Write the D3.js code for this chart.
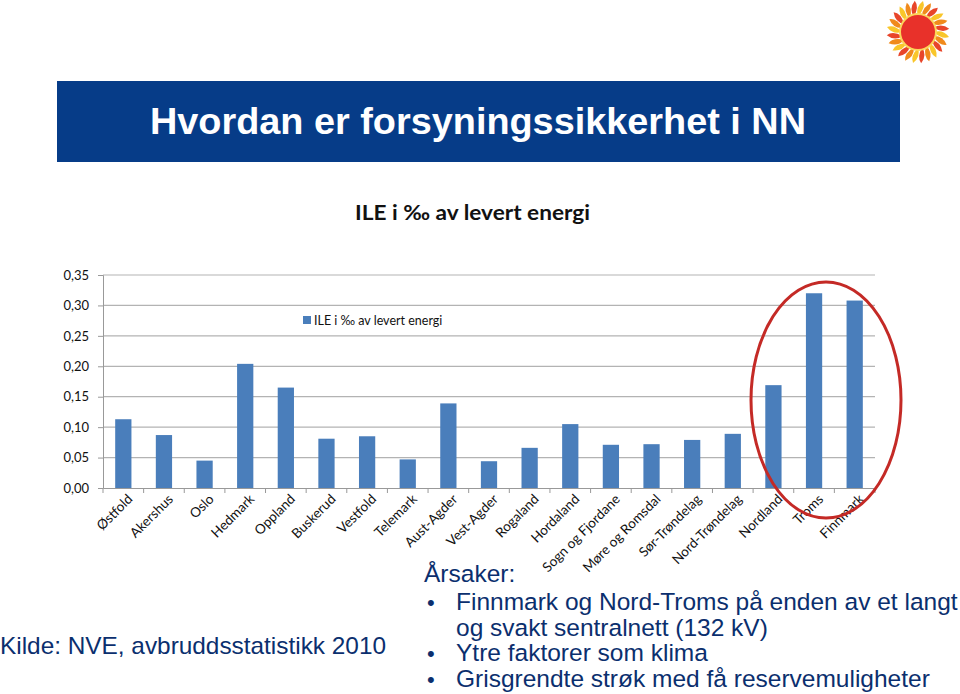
<!DOCTYPE html>
<html><head><meta charset="utf-8">
<script src="https://cdn.jsdelivr.net/npm/d3@7"></script>
<style>body{margin:0;background:#fff}svg{display:block}</style>
</head><body>
<svg id="c" width="960" height="694"></svg>
<script>
const categories = ["Østfold","Akershus","Oslo","Hedmark","Oppland","Buskerud","Vestfold","Telemark","Aust-Agder","Vest-Agder","Rogaland","Hordaland","Sogn og Fjordane","Møre og Romsdal","Sør-Trøndelag","Nord-Trøndelag","Nordland","Troms","Finnmark"];
const values = [0.113,0.087,0.045,0.204,0.165,0.081,0.085,0.047,0.139,0.044,0.066,0.105,0.071,0.072,0.079,0.089,0.169,0.320,0.308];
const yTicks = [0,0.05,0.10,0.15,0.20,0.25,0.30,0.35];
const seriesName = "ILE i ‰ av levert energi";
const pageTitle = "Hvordan er forsyningssikkerhet i NN";
const sourceText = "Kilde: NVE, avbruddsstatistikk 2010";
const causesHead = "Årsaker:";
const causes = [["Finnmark og Nord-Troms på enden av et langt","og svakt sentralnett (132 kV)"],["Ytre faktorer som klima"],["Grisgrendte strøk med få reservemuligheter"]];

const svg = d3.select("#c");
const navy = "#0b2f6e";
const cf = "Lato, Open Sans, sans-serif";

// logo
const logo = svg.append("g").attr("transform","translate(918,32)");
for (let i=0;i<24;i++){
  const a = i*360/24;
  logo.append("path").attr("d","M0,-16 Q8,-24 5,-31 Q-3,-25 0,-16Z")
    .attr("fill", i%3==0? "#f9c62a": (i%3==1 ? "#f08a1c" : "#e8452a")).attr("transform",`rotate(${a})`);
}
logo.append("circle").attr("r",19).attr("fill","#fbd45a");
logo.append("circle").attr("r",17).attr("fill","#e8312a");

// banner
svg.append("rect").attr("x",57).attr("y",81).attr("width",843).attr("height",81).attr("fill","#063c88");
svg.append("text").attr("x",150).attr("y",134).attr("fill","#fff")
  .attr("font-family","Liberation Sans, Arial, sans-serif").attr("font-weight","bold").attr("font-size",36)
  .attr("textLength",656).attr("lengthAdjust","spacingAndGlyphs")
  .text(pageTitle);

// chart title
svg.append("text").attr("x",355).attr("y",220)
  .attr("font-family",cf).attr("font-weight","bold").attr("font-size",20)
  .attr("textLength",235).attr("lengthAdjust","spacingAndGlyphs")
  .attr("fill","#111").text(seriesName);

const x = d3.scaleBand().domain(categories).range([103,875]).paddingInner(0.6).paddingOuter(0.3);
const y = d3.scaleLinear().domain([0,0.35]).range([488,275]);

const g = svg.append("g");
// gridlines
g.selectAll("line.grid").data(yTicks.filter(d=>d>0)).join("line")
  .attr("x1",103).attr("x2",875).attr("y1",d=>y(d)).attr("y2",d=>y(d))
  .attr("stroke","#b3b3b3").attr("stroke-width",1.2);

// y axis
const yAx = g.append("g").attr("transform","translate(103,0)")
  .call(d3.axisLeft(y).tickValues(yTicks).tickSize(5).tickFormat(d=>d3.format(".2f")(d).replace(".",",")));
yAx.select(".domain").attr("stroke","#999");
yAx.selectAll(".tick line").attr("stroke","#999");
yAx.selectAll("text").attr("font-family",cf).attr("font-size",13).attr("fill","#111").attr("x",-14);

// bars
g.selectAll("rect.bar").data(values).join("rect")
  .attr("x",(d,i)=>x(categories[i])).attr("width",x.bandwidth())
  .attr("y",d=>y(d)).attr("height",d=>y(0)-y(d)).attr("fill","#4a7ebb");

// x axis
const xAx = g.append("g").attr("transform","translate(0,488)")
  .call(d3.axisBottom(x).tickSize(0).tickSizeOuter(0));
xAx.select(".domain").attr("stroke","#999");
xAx.selectAll("text").attr("font-family",cf).attr("font-size",13.5).attr("fill","#111")
  .attr("text-anchor","end").attr("dy",0).attr("y",0).attr("transform","translate(10,12) rotate(-45)");
// category boundary ticks
g.selectAll("line.ctick").data(d3.range(categories.length+1)).join("line")
  .attr("x1",i=>103+i*(772/categories.length)).attr("x2",i=>103+i*(772/categories.length))
  .attr("y1",488).attr("y2",493).attr("stroke","#999");

// legend
svg.append("rect").attr("x",303).attr("y",316).attr("width",8).attr("height",8).attr("fill","#4a7ebb");
svg.append("text").attr("x",314).attr("y",325).attr("font-family",cf).attr("font-size",12.5).attr("fill","#111").text(seriesName);

// red ellipse
svg.append("ellipse").attr("cx",826).attr("cy",400).attr("rx",75).attr("ry",118)
  .attr("fill","none").attr("stroke","#c42a26").attr("stroke-width",3);

// bottom texts
const tf = "Liberation Sans, Arial, sans-serif";
svg.append("text").attr("x",0).attr("y",654).attr("font-family",tf).attr("font-size",24).attr("fill",navy)
  .attr("textLength",386).attr("lengthAdjust","spacingAndGlyphs").text(sourceText);
svg.append("text").attr("x",424).attr("y",582).attr("font-family",tf).attr("font-size",24.5).attr("fill",navy).text(causesHead);
let ly = 610;
causes.forEach(c=>{
  svg.append("text").attr("x",427).attr("y",ly).attr("font-family",tf).attr("font-size",22).attr("fill",navy).text("•");
  c.forEach(line=>{
    svg.append("text").attr("x",456).attr("y",ly).attr("font-family",tf).attr("font-size",24.5).attr("fill",navy).text(line);
    ly += 25.5;
  });
});
</script>
</body></html>
